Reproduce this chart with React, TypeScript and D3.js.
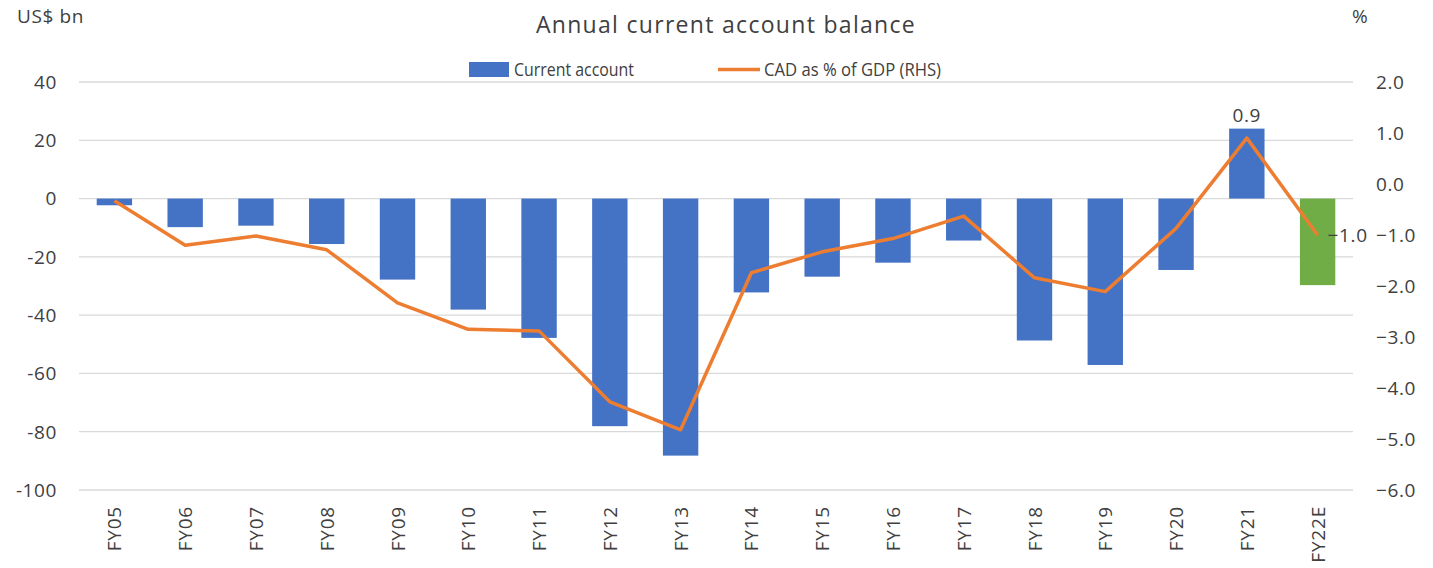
import React from "react";
import * as d3 from "d3";

// values
const categories = [
  "FY05", "FY06", "FY07", "FY08", "FY09", "FY10", "FY11", "FY12", "FY13",
  "FY14", "FY15", "FY16", "FY17", "FY18", "FY19", "FY20", "FY21", "FY22E",
];
const currentAccount = [
  -2.3, -9.8, -9.3, -15.6, -27.8, -38.1, -47.8, -78.1, -88.2,
  -32.2, -26.8, -22.0, -14.4, -48.7, -57.1, -24.5, 24.0, -29.7,
];
const cadPctGdp = [
  -0.33, -1.2, -1.02, -1.29, -2.33, -2.85, -2.88, -4.27, -4.82,
  -1.74, -1.33, -1.07, -0.63, -1.84, -2.11, -0.87, 0.9, -1.0,
];
const leftTicks = [40, 20, 0, -20, -40, -60, -80, -100];
const rightTicks = [2, 1, 0, -1, -2, -3, -4, -5, -6];
const labelled = ["FY21", "FY22E"];

const W = 1433;
const H = 568;
const FONT = "'Open Sans', 'Noto Sans', sans-serif";
const TEXT = "#404040";

export default function App() {
  const margin = { top: 82, bottom: 78, left: 79, right: 80 };
  const innerBottom = H - margin.bottom;

  const x = d3.scaleBand<string>()
    .domain(categories)
    .range([margin.left, W - margin.right])
    .paddingInner(0.5)
    .paddingOuter(0.25);

  const yLeft = d3.scaleLinear().domain([-100, 40]).range([innerBottom, margin.top]);
  const yRight = d3.scaleLinear().domain([-6, 2]).range([innerBottom, margin.top]);

  const cx = (c: string) => (x(c) ?? 0) + x.bandwidth() / 2;
  const fmt = d3.format(".1f");

  const line = d3.line<number>()
    .x((_, i) => cx(categories[i]))
    .y((d) => yRight(d));

  return (
    <svg width={W} height={H} style={{ position: "absolute", left: 0, top: 0, background: "#fff" }}
      fontFamily={FONT}>
      <text x={726} y={33} textAnchor="middle" fontSize={23} letterSpacing={1.3} fill={TEXT}>
        Annual current account balance
      </text>
      <text x={17} y={23} fontSize={19} letterSpacing={0.6} fill={TEXT}>US$ bn</text>
      <text x={1352} y={23} fontSize={19} fill={TEXT}>%</text>

      {/* legend */}
      <rect x={469} y={62} width={40} height={15} fill="#4472C4" />
      <text x={514} y={76} fontSize={19} textLength={120} lengthAdjust="spacingAndGlyphs" fill={TEXT}>
        Current account
      </text>
      <line x1={718} x2={760} y1={69.5} y2={69.5} stroke="#ED7D31" strokeWidth={3.5} />
      <text x={764} y={76} fontSize={19} textLength={177} lengthAdjust="spacingAndGlyphs" fill={TEXT}>
        CAD as % of GDP (RHS)
      </text>

      {/* grid + left axis */}
      {leftTicks.map((t) => (
        <g key={"l" + t}>
          <line x1={margin.left} x2={W - margin.right} y1={yLeft(t)} y2={yLeft(t)}
            stroke="#D9D9D9" strokeWidth={1.3} />
          <text x={57} y={yLeft(t)} dy="0.36em" textAnchor="end" fontSize={19} letterSpacing={0.6} fill={TEXT}>
            {t}
          </text>
        </g>
      ))}

      {/* right axis */}
      {rightTicks.map((t) => (
        <text key={"r" + t} x={1376} y={yRight(t)} dy="0.36em" fontSize={19} letterSpacing={0.6} fill={TEXT}>
          {fmt(t)}
        </text>
      ))}

      {/* bars */}
      {currentAccount.map((v, i) => (
        <rect key={categories[i]}
          x={x(categories[i])}
          y={yLeft(Math.max(0, v))}
          width={x.bandwidth()}
          height={Math.abs(yLeft(v) - yLeft(0))}
          fill={categories[i] === "FY22E" ? "#70AD47" : "#4472C4"} />
      ))}

      <path d={line(cadPctGdp) ?? ""} fill="none" stroke="#ED7D31" strokeWidth={3.5}
        strokeLinejoin="round" />

      {/* data labels */}
      {categories.map((c, i) => {
        if (!labelled.includes(c)) return null;
        const v = cadPctGdp[i];
        return v > 0 ? (
          <text key={"dl" + c} x={cx(c)} y={yRight(v) - 16} textAnchor="middle" fontSize={19}
            letterSpacing={0.6} fill={TEXT}>
            {fmt(v)}
          </text>
        ) : (
          <text key={"dl" + c} x={cx(c) + 10} y={yRight(v)} dy="0.36em" fontSize={19}
            letterSpacing={0.6} fill={TEXT}>
            {fmt(v)}
          </text>
        );
      })}

      {/* x labels */}
      {categories.map((c) => (
        <text key={"x" + c} transform={`translate(${cx(c) + 7},${506}) rotate(-90)`}
          textAnchor="end" fontSize={19} letterSpacing={0.8} fill={TEXT}>
          {c}
        </text>
      ))}
    </svg>
  );
}
